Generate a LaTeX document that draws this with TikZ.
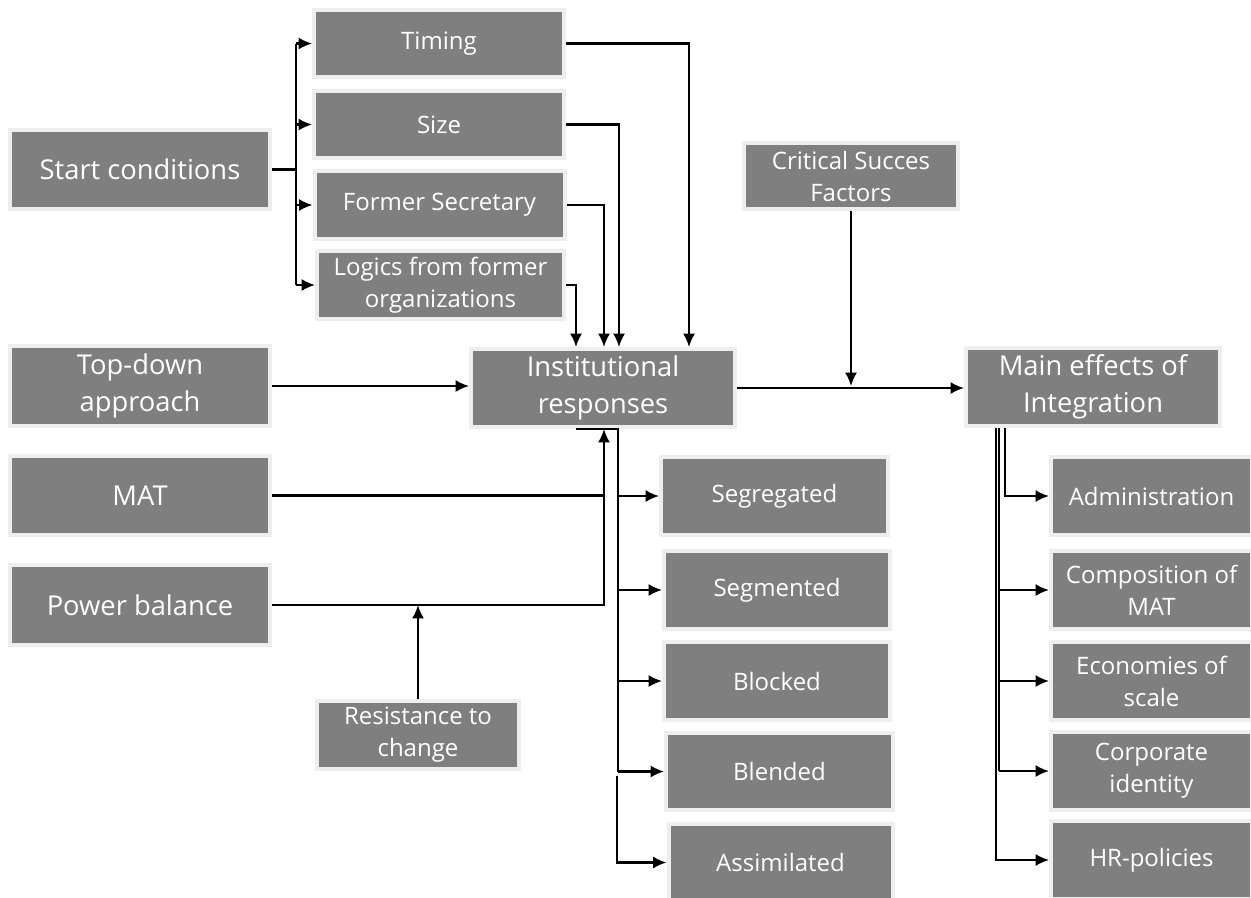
\documentclass[tikz,border=0pt]{standalone}
\usepackage{fontspec}
\setmainfont{Open Sans}
\usetikzlibrary{arrows.meta,calc}
\definecolor{boxgray}{HTML}{7F7F7F}
\definecolor{boxedge}{HTML}{EEEEEE}
\tikzset{
  bx/.style={rectangle, fill=boxgray, draw=boxedge, line width=3pt,
             text=white, align=center, inner sep=0pt},
  big/.style={bx, font=\fontsize{20.5}{27.75}\selectfont},
  small/.style={bx, font=\fontsize{18}{24}\selectfont},
  ln/.style={line width=1.6pt},
  arr/.style={ln, -{Latex[length=10pt,width=9pt]}},
}
\begin{document}
\begin{tikzpicture}[x=0.75pt,y=-0.75pt]
\fill[white] (0,0) rectangle (1251,897);
\useasboundingbox (0,0) rectangle (1251,897);

% left column
\node[big, minimum width=195pt, minimum height=59.25pt] (start)  at (140,169.5) {Start conditions};
\node[big, minimum width=195pt, minimum height=60pt]    (topdown) at (140,386) {Top-down\\approach};
\node[big, minimum width=195pt, minimum height=59.25pt] (mat)    at (140,495.5) {MAT};
\node[big, minimum width=195pt, minimum height=60pt]    (power)  at (140,605) {Power balance};

% start conditions
\node[small, minimum width=187.5pt, minimum height=50.25pt] (timing) at (439,43.5) {Timing};
\node[small, minimum width=187.5pt, minimum height=50.25pt] (size)   at (439,124.5) {Size};
\node[small, minimum width=187.5pt, minimum height=51pt]    (former) at (439.5,205) {Former Secretary};
\node[small, minimum width=185.25pt, minimum height=51pt]   (logics) at (440.5,285) {Logics from former\\organizations};

\node[small, minimum width=151.5pt, minimum height=51pt] (resist) at (418,735) {Resistance to\\change};

% centre
\node[big, minimum width=198pt, minimum height=58.5pt] (inst) at (603,388) {Institutional\\responses};
\node[small, minimum width=160.5pt, minimum height=49.5pt] (crit) at (851,176) {Critical Succes\\Factors};
\node[big, minimum width=190.5pt, minimum height=58.5pt] (main) at (1093,387) {Main effects of\\Integration};

% institutional responses
\node[small, minimum width=170.25pt, minimum height=58.5pt] (segregated) at (774.5,496) {Segregated};
\node[small, minimum width=169.5pt, minimum height=58.5pt]  (segmented)  at (777,590) {Segmented};
\node[small, minimum width=169.5pt, minimum height=58.5pt]  (blocked)    at (777,681) {Blocked};
\node[small, minimum width=170.25pt, minimum height=57.75pt](blended)    at (779.5,771.5) {Blended};
\node[small, minimum width=168pt, minimum height=57.75pt]   (assim)      at (780.5,862.5) {Assimilated};

% effects of integration
\node[small, minimum width=150.75pt, minimum height=58.5pt] (admin) at (1151.5,496) {Administration};
\node[small, minimum width=150.75pt, minimum height=58.5pt] (comp)  at (1151.5,590) {Composition of\\MAT};
\node[small, minimum width=150.75pt, minimum height=58.5pt] (econ)  at (1151.5,681) {Economies of\\scale};
\node[small, minimum width=150.75pt, minimum height=58.5pt] (corp)  at (1151.5,771) {Corporate\\identity};
\node[small, minimum width=150.75pt, minimum height=58.5pt] (hr)    at (1151.5,860) {HR-policies};

% start conditions fan-out
\coordinate (sj) at ($(start.east)+(24,0)$);
\draw[ln] (start.east) -- (sj);
\draw[ln] (sj |- timing.west) -- (sj |- logics.west);
\foreach \n in {timing,size,former,logics}
  \draw[arr] (sj |- \n.west) -- (\n.west);

% factors into institutional responses
\draw[arr] (timing.east) -| ($(inst.north)+(86,0)$);
\draw[arr] (size.east)   -| ($(inst.north)+(16,0)$);
\draw[arr] (former.east) -| ($(inst.north)+(1,0)$);
\draw[arr] (logics.east) -| ($(inst.north)+(-27,0)$);
\draw[arr] (topdown.east) -- (topdown.east -| inst.west);

% MAT and power balance from below
\draw[arr] (mat.east) -| ($(inst.south)+(1,0)$);
\draw[ln] (power.east) -| ($(mat.east -| inst.south)+(1,0)$);
\draw[arr] (resist.north) -- (resist.north |- power.east);

% to main effects
\draw[arr] (inst.east) -- (inst.east -| main.west);
\draw[arr] (crit.south) -- ($(crit.south |- inst.east)+(0,-2)$);

% institutional response types
\coordinate (rb) at ($(inst.south)+(15,0)$);
\draw[ln] ($(inst.south)+(-27,0)$) -- (rb) -- (rb |- blended.west);
\foreach \n in {segregated,segmented,blocked,blended}
  \draw[arr] (rb |- \n.west) -- (\n.west);
\coordinate (ra) at ($(rb |- blended.west)+(-1,4)$);
\draw[arr] (ra) |- (assim.west);

% effects of integration
\draw[arr] ($(main.south)+(-88,0)$) |- (admin.west);
\coordinate (mb) at ($(main.south)+(-94,0)$);
\draw[ln] (mb) -- (mb |- corp.west);
\foreach \n in {comp,econ,corp}
  \draw[arr] (mb |- \n.west) -- (\n.west);
\draw[arr] ($(main.south)+(-97,0)$) |- (hr.west);
\end{tikzpicture}
\end{document}
